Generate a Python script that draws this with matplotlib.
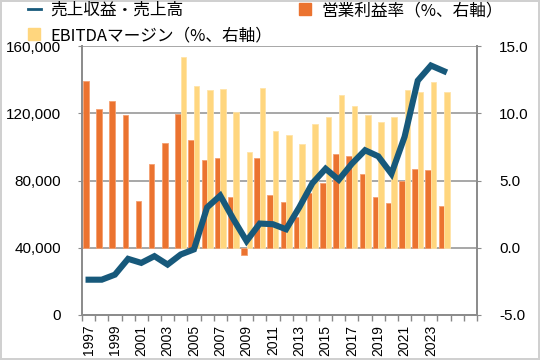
import matplotlib
matplotlib.use('Agg')

import matplotlib.pyplot as plt
from matplotlib.lines import Line2D
import numpy as np

# categories (30 slots, data only through 2024)
years = list(range(1997, 2027))
tick_labels = [str(y) for y in range(1997, 2024, 2)]

# 売上収益・売上高 (left axis)
revenue = [21000, 21000, 24000, 33400, 31000, 35000, 30000, 36000, 39000, 64000,
           71000, 57000, 44000, 54400, 54000, 51000, 64000, 78400, 87000, 80400,
           90000, 98000, 94400, 84000, 106000, 139400, 148400, 145000]

# 営業利益率 (%, right axis)
op_margin = [12.4, 10.3, 10.9, 9.85, 3.5, 6.2, 7.8, 9.95, 8.0, 6.55,
             6.65, 3.8, -0.55, 6.65, 3.95, 3.4, 2.3, 4.1, 4.85, 7.0,
             6.85, 5.45, 3.75, 3.35, 5.0, 5.85, 5.75, 3.1]

# EBITDAマージン (%, right axis)
ebitda = [np.nan] * 7 + [14.2, 12.0, 11.7, 11.8, 10.1, 7.15, 11.9, 8.7, 8.4,
                         7.75, 9.2, 9.75, 11.35, 10.55, 9.85, 9.35, 9.75,
                         11.7, 11.6, 12.3, 11.55]

LINE_C = '#17597b'
ORANGE = '#eb7330'
YELLOW = '#ffd67e'
GRID_C = '#a0a0a0'

plt.rcParams['font.family'] = ['Liberation Sans', 'DejaVu Sans']

fig = plt.figure(figsize=(5.4, 3.6), dpi=100)
fig.patch.set_edgecolor('#d0d0d0')
fig.patch.set_linewidth(1.5)
ax = fig.add_axes([82/540, 1 - 315/360, (477-82)/540, (315-46)/360])
ax2 = ax.twinx()

x = np.arange(len(years))
n = len(revenue)

# bars on the percent axis (drawn underneath the line)
ax.bar(x[:n] - 0.21, op_margin, width=0.42, color=ORANGE,
       edgecolor='#f4a070', linewidth=0.6, zorder=2)
ax.bar(x[:n] + 0.21, ebitda, width=0.42, color=YELLOW,
       edgecolor='#ffe3a8', linewidth=0.6, zorder=2)
ax.set_ylim(-5, 15)
ax.set_yticks([-5, 0, 5, 10, 15])
ax.set_yticklabels(['%.1f' % v for v in [-5, 0, 5, 10, 15]])
ax.yaxis.tick_right()
ax.set_xlim(-0.5, len(years) - 0.5)
ax.grid(axis='y', color=GRID_C, linewidth=1.3, zorder=0)
ax.set_axisbelow(True)

ax2.plot(x[:n], revenue, color=LINE_C, linewidth=4.4, solid_joinstyle='miter')
ax2.set_ylim(0, 160000)
ax2.set_yticks([0, 40000, 80000, 120000, 160000])
ax2.set_yticklabels(['{:,}'.format(v) for v in [0, 40000, 80000, 120000, 160000]])
ax2.yaxis.tick_left()

# x ticks: labels at slot centres, tick marks at slot boundaries
ax.set_xticks(x[:27:2])
ax.set_xticklabels(tick_labels, rotation=90, fontsize=10)
ax.tick_params(axis='x', which='major', length=0, pad=7)
ax.set_xticks(np.arange(-0.5, len(years)), minor=True)
ax.tick_params(axis='x', which='minor', length=4, color='#888888', width=1)

for a in (ax, ax2):
    a.spines['top'].set_visible(False)
    for s in ('left', 'right', 'bottom'):
        a.spines[s].set_color('#8c8c8c')
        a.spines[s].set_linewidth(1.3)
ax.tick_params(axis='y', labelsize=11, length=3, color='#8c8c8c', pad=13)
ax2.tick_params(axis='y', labelsize=11, length=3, color='#8c8c8c', pad=12)

handles = [
    Line2D([0], [0], color=LINE_C, linewidth=2),
    Line2D([0], [0], linestyle='none', marker='s', markersize=8,
           markerfacecolor=YELLOW, markeredgecolor=YELLOW),
    Line2D([0], [0], linestyle='none', marker='s', markersize=8,
           markerfacecolor=ORANGE, markeredgecolor=ORANGE),
]
labels = ['売上収益・売上高', 'EBITDAマージン（%、右軸）', '営業利益率（%、右軸）']
fig.legend(handles, labels, loc='upper left', bbox_to_anchor=(28/540, 1 - 2/360),
           ncol=2, frameon=False, borderpad=0, borderaxespad=0,
           handlelength=0.75, handletextpad=0.6, columnspacing=1.6,
           labelspacing=0.5,
           prop={'family': ['Noto Sans CJK JP', 'DejaVu Sans'], 'size': 12})

fig.savefig('out.png', dpi=100)
